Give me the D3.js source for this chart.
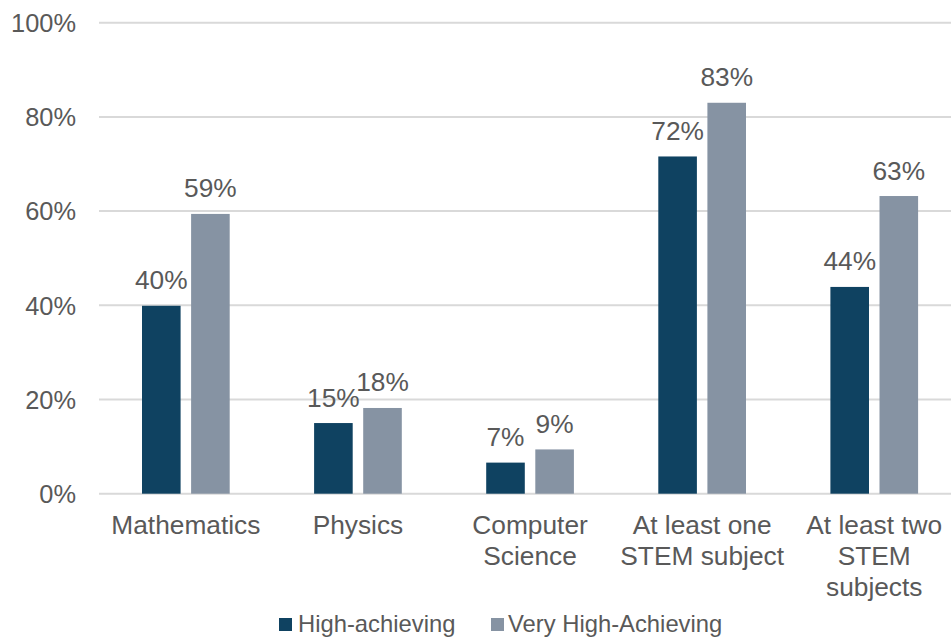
<!DOCTYPE html>
<html><head><meta charset="utf-8">
<script src="https://cdn.jsdelivr.net/npm/d3@7"></script>
<style>body{margin:0;background:#fff}text{font-family:"Liberation Sans",Arial,sans-serif}</style>
</head><body><svg id="c" width="951" height="637"></svg>
<script>
const categories = [["Mathematics"],["Physics"],["Computer","Science"],["At least one","STEM subject"],["At least two","STEM","subjects"]];
const seriesNames = ["High-achieving","Very High-Achieving"];
const highAchieving = [39.9, 15.0, 6.6, 71.6, 43.9];
const veryHighAchieving = [59.4, 18.2, 9.4, 83.0, 63.2];
const yTicks = [0,20,40,60,80,100];
const colors = ["#0f4261","#8693a3"];

(function(){
const svg = d3.select("#c");
const W = 951;
const mLeft = 99.8, mTop = 22.7, mBottom = 493.7;
const keys = categories.map((c,i)=>i);
const x = d3.scaleBand().domain(keys).range([mLeft, mLeft + 5*172.1]).padding(0);
const groupW = 87.7;
const xs = d3.scaleBand().domain([0,1]).range([0, groupW]).paddingInner(0.214).paddingOuter(0);
const y = d3.scaleLinear().domain([0,100]).range([mBottom, mTop]);
const fsTick = 25.4, fs = 26.3;

svg.append("g").selectAll("line").data(yTicks).join("line")
  .attr("x1", 99).attr("x2", W).attr("y1", d=>y(d)).attr("y2", d=>y(d))
  .attr("stroke","#d9d9d9").attr("stroke-width",2);
const yAxis = d3.axisLeft(y).tickValues(yTicks).tickFormat(d=>d+"%").tickSize(0).tickPadding(0);
const ga = svg.append("g").attr("transform","translate(76,0)").call(yAxis);
ga.select(".domain").remove();
ga.selectAll("text").attr("font-size",fsTick).attr("fill","#595959").attr("font-family","Liberation Sans, Arial, sans-serif").attr("dy","0.35em");

const data = [highAchieving, veryHighAchieving];
const fmt = d3.format(".0f");
data.forEach((vals, s) => {
  const g = svg.append("g");
  g.selectAll("rect").data(vals).join("rect")
    .attr("x",(d,i)=>x(i) + (x.bandwidth()-groupW)/2 + xs(s))
    .attr("width", xs.bandwidth())
    .attr("y", d=>y(d)).attr("height", d=>mBottom - y(d))
    .attr("fill", colors[s]);
  g.selectAll("text").data(vals).join("text")
    .attr("x",(d,i)=>x(i) + (x.bandwidth()-groupW)/2 + xs(s) + xs.bandwidth()/2)
    .attr("y", d=>y(d) - 16.5)
    .attr("text-anchor","middle").attr("font-size",fs).attr("fill","#595959")
    .text(d=>fmt(d)+"%");
});

const cg = svg.append("g");
categories.forEach((lines,i)=>{
  const t = cg.append("text").attr("text-anchor","middle").attr("font-size",fs).attr("fill","#595959");
  lines.forEach((ln,j)=>{
    t.append("tspan").attr("x", x(i)+x.bandwidth()/2).attr("y", 534 + j*31).text(ln);
  });
});

const lg = svg.append("g");
const legendPos = [[279, 298],[491, 508]];
seriesNames.forEach((n,i)=>{
  lg.append("rect").attr("x",legendPos[i][0]).attr("y",618).attr("width",13).attr("height",13).attr("fill",colors[i]);
  lg.append("text").attr("x",legendPos[i][1]).attr("y",632).attr("font-size",23.8).attr("fill","#595959").text(n);
});
})();
</script></body></html>
